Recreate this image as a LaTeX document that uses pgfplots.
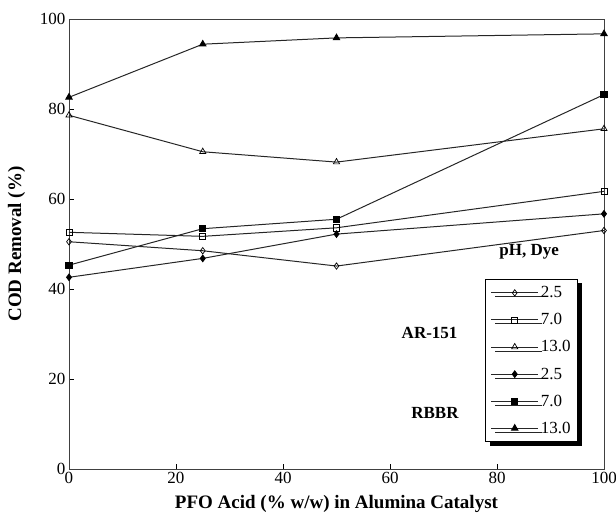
\documentclass[border=0pt]{standalone}
\usepackage{pgfplots}
\pgfplotsset{compat=1.18}
\usepackage{fontspec}
\setmainfont{Liberation Serif}
\usetikzlibrary{shadows}
\begin{document}
\begin{tikzpicture}
\begin{axis}[
  name=ax,
  scale only axis,
  width=535pt, height=450pt,
  xmin=0, xmax=100, ymin=0, ymax=100,
  xtick={0,20,40,60,80,100}, ytick={0,20,40,60,80,100},
  tick align=inside, xtick pos=bottom, ytick pos=left,
  major tick length=5pt,
  tick style={black, line width=0.8pt},
  axis line style={line width=0.9pt, black!75},
  /pgf/number format/assume math mode=true,
  tick label style={font=\fontsize{17}{20}\selectfont},
  xlabel={\textbf{PFO Acid (\% w/w) in Alumina Catalyst}},
  ylabel={\textbf{COD Removal (\%)}},
  label style={font=\fontsize{19}{22}\selectfont},
  xlabel style={yshift=-4pt},
  ylabel style={yshift=8pt},
  legend cell align=left,
  legend style={at={(0.778,0.422)}, anchor=north west, draw=black, line width=0.8pt,
    fill=white, font=\fontsize{17}{20}\selectfont, /tikz/row sep=10.3pt,
    inner xsep=5pt, inner ysep=5pt,
    drop shadow={fill=black, opacity=1, shadow xshift=4pt, shadow yshift=-4pt}},
  legend image code/.code={
    \draw[mark repeat=2, mark phase=2, #1] plot coordinates {(0cm,0cm) (0.83cm,0cm) (1.66cm,0cm)};},
  every axis plot/.append style={black!85, line width=1pt},
]
\addplot[mark=diamond, mark options={fill=white, scale=1.6, black, solid, line width=0.7pt}] coordinates {(0,50.5) (25,48.5) (50,45.1) (100,53.0)};
\addlegendentry{2.5}
\addplot[mark=square, mark options={fill=white, scale=1.55, black, solid, line width=0.7pt}] coordinates {(0,52.6) (25,51.7) (50,53.6) (100,61.7)};
\addlegendentry{7.0}
\addplot[mark=triangle, mark options={fill=white, scale=1.8, black, solid, line width=0.7pt}] coordinates {(0,78.6) (25,70.5) (50,68.2) (100,75.6)};
\addlegendentry{13.0}
\addplot[mark=diamond*, mark options={fill=black, scale=1.6, black, solid}] coordinates {(0,42.6) (25,46.8) (50,52.2) (100,56.7)};
\addlegendentry{2.5}
\addplot[mark=square*, mark options={fill=black, scale=1.55, black, solid}] coordinates {(0,45.3) (25,53.4) (50,55.5) (100,83.2)};
\addlegendentry{7.0}
\addplot[mark=triangle*, mark options={fill=black, scale=1.8, black, solid}] coordinates {(0,82.6) (25,94.4) (50,95.8) (100,96.7)};
\addlegendentry{13.0}
\node[font=\bfseries\fontsize{17}{20}\selectfont] at (axis cs:86.0,48.3) {pH, Dye};
\node[font=\bfseries\fontsize{17}{20}\selectfont] at (axis cs:67.4,30.2) {AR-151};
\node[font=\bfseries\fontsize{17}{20}\selectfont] at (axis cs:68.4,12.4) {RBBR};
\end{axis}
\pgfresetboundingbox
\path[use as bounding box] (ax.south west) ++(-69pt,-53pt) rectangle ([shift={(12pt,19pt)}]ax.north east);
\end{tikzpicture}
\end{document}
